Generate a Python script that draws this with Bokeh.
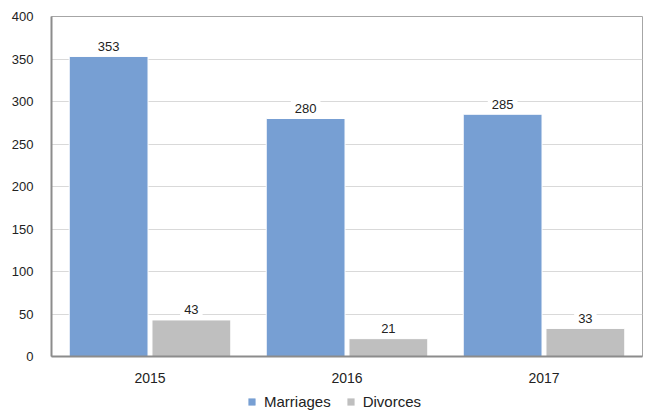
from bokeh.plotting import figure
from bokeh.layouts import column
from bokeh.models import ColumnDataSource, FactorRange, Legend, LegendItem, SingleIntervalTicker, Range1d
from bokeh.core.properties import value
from bokeh.transform import dodge
from bokeh.embed import file_html
from bokeh.resources import INLINE

years = ["2015", "2016", "2017"]
marriages = [353, 280, 285]
divorces = [43, 21, 33]
series = ["Marriages", "Divorces"]
colors = ["#779fd3", "#bfbfbf"]

src = ColumnDataSource(dict(year=years, marriages=marriages, divorces=divorces,
                            mtxt=[str(v) for v in marriages], dtxt=[str(v) for v in divorces]))

p = figure(width=646, height=390, x_range=FactorRange(*years, range_padding=0),
           y_range=Range1d(0, 400), output_backend="svg", toolbar_location=None,
           min_border_left=51, min_border_right=4, min_border_top=16, min_border_bottom=34)
p.background_fill_color = "white"
p.border_fill_color = "white"
p.outline_line_color = "#a6a6a6"
p.outline_line_width = 1

font = "Liberation Sans"
r1 = p.vbar(x=dodge("year", -0.21, range=p.x_range), top="marriages", width=0.4,
            source=src, fill_color=colors[0], line_color="white", line_width=1)
r2 = p.vbar(x=dodge("year", 0.21, range=p.x_range), top="divorces", width=0.4,
            source=src, fill_color=colors[1], line_color="white", line_width=1)

for col, txt, off in (("marriages", "mtxt", -0.21), ("divorces", "dtxt", 0.21)):
    p.text(x=dodge("year", off, range=p.x_range), y=col, text=txt, source=src,
           y_offset=-10, text_align="center", text_baseline="middle",
           text_font=value(font), text_font_size="13px", text_color="#222222",
           background_fill_color="white", padding=4)

p.yaxis.ticker = SingleIntervalTicker(interval=50)
p.ygrid.ticker = SingleIntervalTicker(interval=50)
p.ygrid.grid_line_color = "#d9d9d9"
p.ygrid.grid_line_width = 1
p.xgrid.visible = False
for ax in (p.xaxis[0], p.yaxis[0]):
    ax.axis_line_color = "#8c8c8c"
    ax.axis_line_width = 2
    ax.major_tick_line_color = None
    ax.minor_tick_line_color = None
    ax.major_label_text_font = font
    ax.major_label_text_font_size = "13px"
    ax.major_label_text_color = "#222222"
p.xaxis.major_label_text_font_size = "14px"
p.yaxis.major_label_standoff = 12
p.xaxis.major_label_standoff = 10

# legend strip below the chart: same bars, but with a y range above all data so none show
lg = figure(width=646, height=23, x_range=FactorRange(*years, range_padding=0),
            y_range=Range1d(10 * max(marriages), 20 * max(marriages)),
            output_backend="svg", toolbar_location=None,
            x_axis_location=None, y_axis_location=None,
            min_border_left=0, min_border_right=0, min_border_top=0, min_border_bottom=0)
lg.grid.visible = False
lg.outline_line_color = None
lg.border_fill_color = "white"
l1 = lg.vbar(x="year", top="marriages", width=0.4, source=src, fill_color=colors[0], line_color=None)
l2 = lg.vbar(x="year", top="divorces", width=0.4, source=src, fill_color=colors[1], line_color=None)
legend = Legend(items=[LegendItem(label=series[0], renderers=[l1]),
                       LegendItem(label=series[1], renderers=[l2])],
                orientation="horizontal", location=(196, 3),
                glyph_width=9, glyph_height=9, label_standoff=8, spacing=15,
                label_text_font=font, label_text_font_size="15px", label_text_color="#222222",
                border_line_color=None, background_fill_alpha=0, padding=0, margin=0)
lg.add_layout(legend, "center")

open("out.html", "w").write(file_html(column(p, lg, spacing=0), INLINE))
